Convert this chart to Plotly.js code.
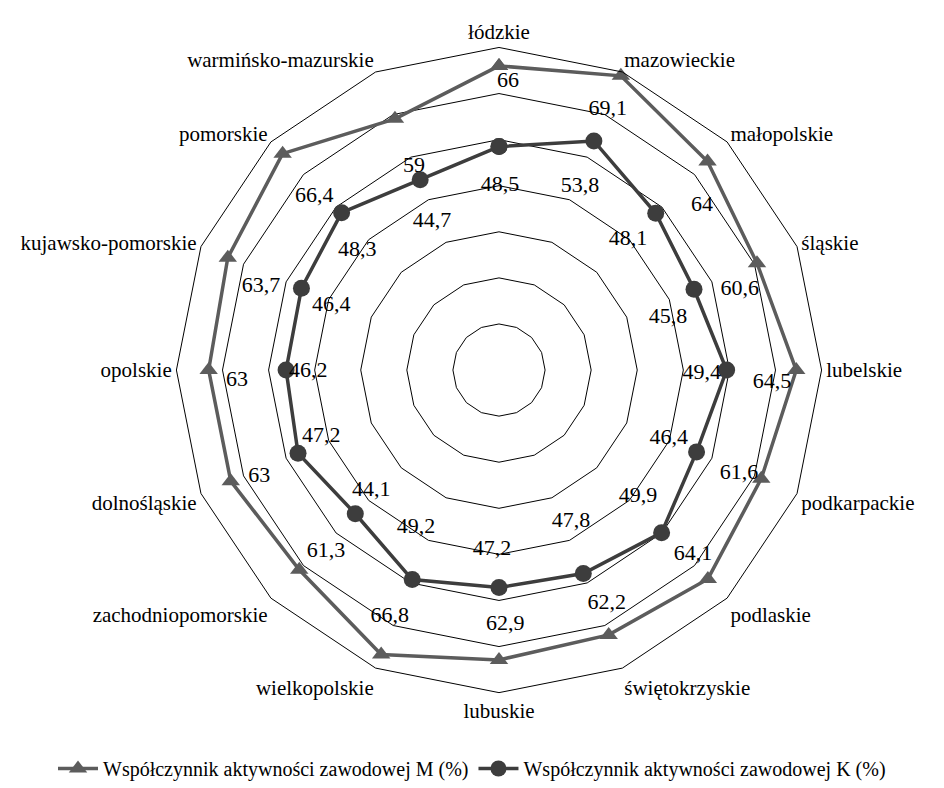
<!DOCTYPE html>
<html>
<head>
<meta charset="utf-8">
<script src="https://cdn.plot.ly/plotly-3.0.1.min.js"></script>
<style>html,body{margin:0;padding:0;background:#fff;}#chart{width:944px;height:788px;}</style>
</head>
<body>
<div id="chart"></div>
<script>
// ---- data ----
var categories = ['łódzkie','mazowieckie','małopolskie','śląskie','lubelskie','podkarpackie','podlaskie','świętokrzyskie','lubuskie','wielkopolskie','zachodniopomorskie','dolnośląskie','opolskie','kujawsko-pomorskie','pomorskie','warmińsko-mazurskie'];
var valuesM = [66, 69.1, 64, 60.6, 64.5, 61.6, 64.1, 62.2, 62.9, 66.8, 61.3, 63, 63, 63.7, 66.4, 59];
var valuesK = [48.5, 53.8, 48.1, 45.8, 49.4, 46.4, 49.9, 47.8, 47.2, 49.2, 44.1, 47.2, 46.2, 46.4, 48.3, 44.7];
var seriesNames = ['Współczynnik aktywności zawodowej M (%)', 'Współczynnik aktywności zawodowej K (%)'];

// ---- data-label placement (polar r, angle in degrees clockwise from top) ----
var mLabelR = [62.6, 61.2, 56.7, 55.1, 59.3, 56.7, 58.1, 55.8, 55.2, 58.5, 54.4, 56.9, 56.9, 54.7, 55.0, 47.8];
var mLabelTheta = [1.8, 22.7, 51.0, 71.5, 92.6, 113.3, 133.6, 155.2, 178.6, 203.9, 223.6, 246.1, 267.7, 289.3, 313.2, 337.3];
var kLabelR = [40.0, 43.5, 39.8, 38.4, 44.0, 39.7, 40.8, 36.4, 39.0, 38.6, 38.1, 41.2, 41.4, 39.0, 40.2, 35.3];
var kLabelTheta = [0.3, 23.8, 44.7, 72.7, 91.0, 111.9, 132.3, 154.6, 182.2, 207.8, 226.7, 249.5, 269.6, 291.0, 310.1, 335.7];

var FONT = 'Liberation Serif';
var colM = '#5c5c5c';
var colK = '#3d3d3d';

function closed(a) { return a.concat([a[0]]); }
function fmt(v) { return String(v).replace('.', ','); }

var traces = [
  {
    type: 'scatterpolar', subplot: 'polar', name: seriesNames[0],
    r: closed(valuesM), theta: closed(categories), mode: 'lines+markers',
    line: {color: colM, width: 3.5},
    marker: {symbol: 'triangle-up', size: 16, color: colM},
    hoverinfo: 'skip'
  },
  {
    type: 'scatterpolar', subplot: 'polar', name: seriesNames[1],
    r: closed(valuesK), theta: closed(categories), mode: 'lines+markers',
    line: {color: colK, width: 3.5},
    marker: {symbol: 'circle', size: 17, color: colK},
    hoverinfo: 'skip'
  },
  {
    type: 'scatterpolar', subplot: 'polar2', showlegend: false, mode: 'text',
    r: mLabelR, theta: mLabelTheta, text: valuesM.map(fmt),
    textposition: 'middle center', textfont: {family: FONT, size: 22, color: '#000'},
    hoverinfo: 'skip'
  },
  {
    type: 'scatterpolar', subplot: 'polar2', showlegend: false, mode: 'text',
    r: kLabelR, theta: kLabelTheta, text: valuesK.map(fmt),
    textposition: 'middle center', textfont: {family: FONT, size: 22, color: '#000'},
    hoverinfo: 'skip'
  }
];

var dom = {x: [0.1864, 0.8708], y: [0.1199, 0.9397]};

var layout = {
  width: 944, height: 788,
  margin: {l: 0, r: 0, t: 0, b: 0},
  paper_bgcolor: '#fff',
  font: {family: FONT, size: 21, color: '#000'},
  showlegend: true,
  legend: {
    orientation: 'h', x: 0.5, xanchor: 'center', y: 0.023, yanchor: 'middle',
    font: {family: FONT, size: 20, color: '#000'}, itemwidth: 40, tracegroupgap: 0
  },
  polar: {
    domain: dom,
    bgcolor: 'rgba(0,0,0,0)',
    gridshape: 'linear',
    angularaxis: {
      type: 'category', categoryorder: 'array', categoryarray: categories,
      rotation: 90, direction: 'clockwise',
      showgrid: false, showline: true, linecolor: '#000', linewidth: 1,
      ticks: '', tickfont: {family: FONT, size: 21, color: '#000'}
    },
    radialaxis: {
      range: [0, 70], dtick: 10, tick0: 0,
      showticklabels: false, ticks: '', showline: false,
      gridcolor: '#000', gridwidth: 1
    }
  },
  polar2: {
    domain: dom,
    bgcolor: 'rgba(0,0,0,0)',
    angularaxis: {type: 'linear', rotation: 90, direction: 'clockwise', thetaunit: 'degrees', visible: false, showgrid: false},
    radialaxis: {range: [0, 70], visible: false, showgrid: false}
  }
};

Plotly.newPlot('chart', traces, layout, {displayModeBar: false, staticPlot: true});
</script>
</body>
</html>
